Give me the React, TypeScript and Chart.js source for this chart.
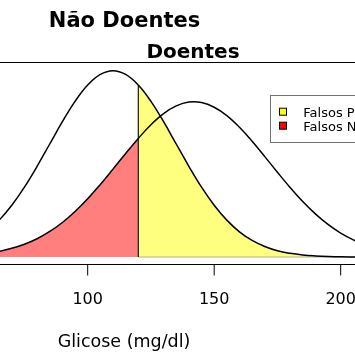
import { useEffect, useRef } from "react";
import { Chart, registerables } from "chart.js";

Chart.register(...registerables);

// Glucose grid (mg/dl) and curve heights (density x 1000)
const GLUCOSE = [60, 65, 70, 75, 80, 85, 90, 95, 100, 105, 110, 115, 120, 125, 130, 135, 140, 145, 150, 155, 160, 165, 170, 175, 180, 185, 190, 195, 200, 205, 210];
const NAO_DOENTES = [2.16, 3.16, 4.44, 5.99, 7.77, 9.68, 11.59, 13.33, 14.73, 15.64, 15.96, 15.64, 14.73, 13.33, 11.59, 9.68, 7.77, 5.99, 4.44, 3.16, 2.16, 1.42, 0.9, 0.54, 0.32, 0.18, 0.1, 0.05, 0.02, 0.01, 0.005];
const DOENTES = [0.32, 0.49, 0.75, 1.1, 1.57, 2.19, 2.96, 3.9, 4.99, 6.22, 7.53, 8.87, 10.16, 11.33, 12.28, 12.94, 13.27, 13.23, 12.83, 12.11, 11.11, 9.91, 8.6, 7.26, 5.96, 4.76, 3.7, 2.79, 2.05, 1.47, 1.02];
const CUTOFF = 120;
const X_TICKS = [50, 100, 150, 200];
const X_MIN = 65.34;
const X_MAX = 205.66;
const TITLE_1 = "Não Doentes";
const TITLE_2 = "Doentes";
const X_TITLE = "Glicose (mg/dl)";
const LEGEND_LABELS = ["Falsos Positivos", "Falsos Negativos"];
const LEGEND_COLORS = ["#FFFF00", "#FF0000"];

const YELLOW_FILL = "rgba(255,255,0,0.5)";
const RED_FILL = "rgba(255,0,0,0.5)";
const NONE = "rgba(0,0,0,0)";
const FONT = '"DejaVu Sans", sans-serif';

const decor = {
  id: "decor",
  afterDraw(chart: any) {
    const { ctx, chartArea } = chart;
    const x = chart.scales.x;
    const W = chart.width;
    ctx.save();
    ctx.strokeStyle = "#000";
    ctx.fillStyle = "#000";
    ctx.lineWidth = 1;
    const topY = Math.round(chartArea.top) - 0.5;
    const botY = Math.round(chartArea.bottom) - 0.5;
    ctx.beginPath();
    ctx.moveTo(0, topY);
    ctx.lineTo(W, topY);
    ctx.moveTo(0, botY);
    ctx.lineTo(W, botY);
    ctx.stroke();
    // ticks
    ctx.font = `16px ${FONT}`;
    ctx.textAlign = "center";
    ctx.textBaseline = "alphabetic";
    for (const t of X_TICKS) {
      const px = x.getPixelForValue(t);
      ctx.beginPath();
      ctx.moveTo(px, botY);
      ctx.lineTo(px, botY + 11);
      ctx.stroke();
      ctx.fillText(String(t), px, 304);
    }
    // axis title
    ctx.font = `17.5px ${FONT}`;
    ctx.fillText(X_TITLE, 124, 346.5);
    // titles
    ctx.font = `bold 21px ${FONT}`;
    ctx.fillText(TITLE_1, 124.5, 26.7);
    ctx.font = `bold 20px ${FONT}`;
    ctx.fillText(TITLE_2, 193, 58);
    // legend
    ctx.strokeStyle = "rgba(0,0,0,0.55)";
    ctx.strokeRect(270.5, 95.5, 200, 47);
    ctx.font = `13px ${FONT}`;
    ctx.textAlign = "left";
    LEGEND_LABELS.forEach((lab, i) => {
      const cy = 111.7 + i * 14;
      ctx.fillStyle = LEGEND_COLORS[i];
      ctx.fillRect(279.5, cy - 3.5, 7, 7);
      ctx.strokeStyle = "#000";
      ctx.strokeRect(279.5, cy - 3.5, 7, 7);
      ctx.fillStyle = "#000";
      ctx.fillText(lab, 303.3, cy + 4.8);
    });
    ctx.restore();
  },
};

export default function App() {
  const ref = useRef<HTMLCanvasElement>(null);
  useEffect(() => {
    if (!ref.current) return;
    const nd = GLUCOSE.map((g, i) => ({ x: g, y: NAO_DOENTES[i] }));
    const d = GLUCOSE.map((g, i) => ({ x: g, y: DOENTES[i] }));
    const cutIdx = GLUCOSE.indexOf(CUTOFF);
    const lastG = GLUCOSE[GLUCOSE.length - 1];
    const peak = Math.max(...NAO_DOENTES);
    const chart = new Chart(ref.current, {
      type: "line",
      data: {
        datasets: [
          {
            data: [{ x: CUTOFF, y: 0 }, { x: CUTOFF, y: NAO_DOENTES[cutIdx] }],
            borderColor: "#000",
            borderWidth: 1.1,
            pointRadius: 0,
            fill: false,
            order: 0,
          },
          {
            data: [{ x: CUTOFF, y: 0 }, { x: lastG, y: 0 }],
            borderColor: "rgba(0,0,0,0.3)",
            borderWidth: 1,
            pointRadius: 0,
            fill: false,
            order: 1,
          },
          {
            data: d,
            borderColor: "#000",
            borderWidth: 1.5,
            backgroundColor: NONE,
            pointRadius: 0,
            tension: 0.4,
            fill: "origin",
            segment: {
              backgroundColor: (c: any) => (c.p1.parsed.x <= CUTOFF ? RED_FILL : NONE),
            },
            order: 2,
          },
          {
            data: nd,
            borderColor: "#000",
            borderWidth: 1.5,
            backgroundColor: NONE,
            pointRadius: 0,
            tension: 0.4,
            fill: "origin",
            segment: {
              backgroundColor: (c: any) => (c.p0.parsed.x >= CUTOFF ? YELLOW_FILL : NONE),
            },
            order: 3,
          },
        ],
      } as any,
      options: {
        animation: false,
        responsive: false,
        devicePixelRatio: 1,
        layout: { padding: { left: 0, right: 0, top: 63.2, bottom: 90.5 } },
        plugins: { legend: { display: false }, tooltip: { enabled: false } },
        scales: {
          x: { type: "linear", display: false, min: X_MIN, max: X_MAX },
          y: { type: "linear", display: false, min: -0.04 * peak, max: 1.04 * peak },
        },
      } as any,
      plugins: [decor],
    });
    return () => chart.destroy();
  }, []);
  return (
    <div style={{ position: "fixed", left: 0, top: 0, width: 355, height: 355, background: "#fff" }}>
      <canvas ref={ref} width={355} height={355} />
    </div>
  );
}
